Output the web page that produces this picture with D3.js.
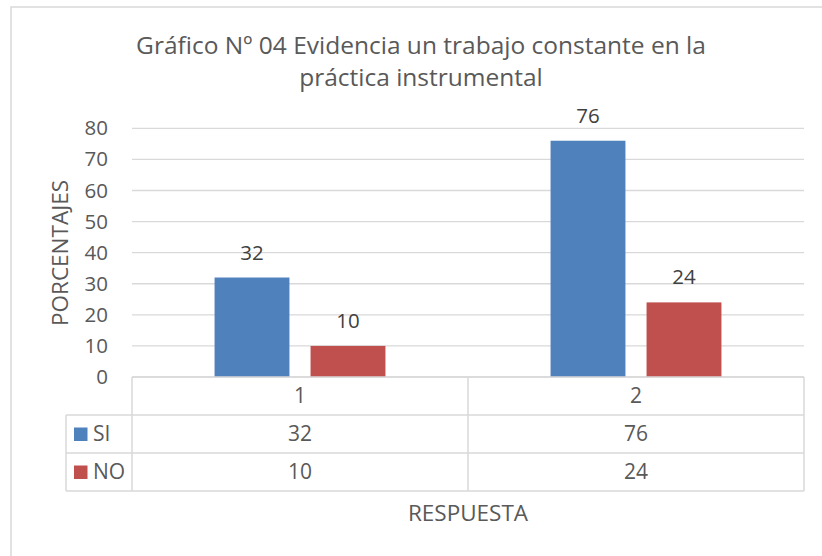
<!DOCTYPE html>
<html>
<head>
<meta charset="utf-8">
<script src="https://cdn.jsdelivr.net/npm/d3@7"></script>
<style>
  body { margin:0; background:#ffffff; }
  svg text { font-family:"Open Sans", sans-serif; }
</style>
</head>
<body>
<svg id="graph"></svg>
<script>
var categories=["1","2"]
var seriesNames=["SI","NO"]
var siValues=[32,76]
var noValues=[10,24]
var yTicks=[0,10,20,30,40,50,60,70,80]
var colors={SI:"#4F81BD",NO:"#C0504D"}

var screen={width:822,height:556}
var plot={left:132,right:804,top:128.3,bottom:377}
var rowH=38

var rows=seriesNames.map(function(name,i)
    {
        return {name:name,values:i==0?siValues:noValues}
    })

var svg=d3.select("#graph")
    .attr("width",screen.width)
    .attr("height",screen.height)

// outer chart border (cropped on the right and bottom)
svg.append("path")
    .attr("d","M11,"+screen.height+"V7H"+screen.width)
    .attr("fill","none")
    .attr("stroke","#D9D9D9")
    .attr("stroke-width",1.5)

var xScale=d3.scaleBand()
    .domain(categories)
    .range([plot.left,plot.right])

var xInner=d3.scaleBand()
    .domain(seriesNames)
    .range([0,xScale.bandwidth()])
    .paddingInner(0.22)
    .paddingOuter(0.86)

var yScale=d3.scaleLinear()
    .domain([0,80])
    .range([plot.bottom,plot.top])

// gridlines
svg.append("g")
    .selectAll("line")
    .data(yTicks)
    .enter()
    .append("line")
    .attr("x1",plot.left)
    .attr("x2",plot.right)
    .attr("y1",function(d){return yScale(d)})
    .attr("y2",function(d){return yScale(d)})
    .attr("stroke","#D9D9D9")
    .attr("stroke-width",1.3)

// y axis labels
var yAxis=d3.axisLeft(yScale)
    .tickValues(yTicks)
    .tickSize(0)
    .tickPadding(24)
svg.append("g")
    .attr("transform","translate("+plot.left+",0)")
    .call(yAxis)
    .call(function(g){g.select(".domain").remove()})
    .selectAll("text")
    .attr("font-size",20.5)
    .attr("fill","#595959")
    .attr("font-family","Open Sans")

// bars
var groups=svg.append("g")
    .selectAll("g")
    .data(rows)
    .enter()
    .append("g")

groups.selectAll("rect")
    .data(function(r){return r.values.map(function(v,i){return {name:r.name,cat:categories[i],value:v}})})
    .enter()
    .append("rect")
    .attr("x",function(d){return xScale(d.cat)+xInner(d.name)})
    .attr("y",function(d){return yScale(d.value)})
    .attr("width",xInner.bandwidth())
    .attr("height",function(d){return yScale(0)-yScale(d.value)})
    .attr("fill",function(d){return colors[d.name]})

groups.selectAll("text")
    .data(function(r){return r.values.map(function(v,i){return {name:r.name,cat:categories[i],value:v}})})
    .enter()
    .append("text")
    .text(function(d){return d.value})
    .attr("x",function(d){return xScale(d.cat)+xInner(d.name)+xInner.bandwidth()/2})
    .attr("y",function(d){return yScale(d.value)-18})
    .attr("text-anchor","middle")
    .attr("font-size",20.5)
    .attr("fill","#404040")

// data table
var table=svg.append("g")
var tableTop=plot.bottom
var tableLeft=66
var lineColor="#D9D9D9"

table.append("line")
    .attr("x1",plot.left).attr("x2",plot.right)
    .attr("y1",tableTop).attr("y2",tableTop)
table.selectAll(".hline")
    .data(d3.range(1,rows.length+2))
    .enter()
    .append("line")
    .attr("x1",tableLeft).attr("x2",plot.right)
    .attr("y1",function(i){return tableTop+i*rowH})
    .attr("y2",function(i){return tableTop+i*rowH})
table.append("line")
    .attr("x1",tableLeft).attr("x2",tableLeft)
    .attr("y1",tableTop+rowH).attr("y2",tableTop+rowH*3)
table.selectAll(".vline")
    .data(categories.concat(["end"]))
    .enter()
    .append("line")
    .attr("x1",function(c){return c=="end"?plot.right:xScale(c)})
    .attr("x2",function(c){return c=="end"?plot.right:xScale(c)})
    .attr("y1",tableTop)
    .attr("y2",tableTop+rowH*3)
table.selectAll("line")
    .attr("stroke",lineColor)
    .attr("stroke-width",1.5)

table.selectAll(".cat")
    .data(categories)
    .enter()
    .append("text")
    .text(function(c){return c})
    .attr("x",function(c){return xScale(c)+xScale.bandwidth()/2})
    .attr("y",tableTop+rowH/2)
    .attr("dy","0.35em")
    .attr("text-anchor","middle")
    .attr("font-size",21)
    .attr("fill","#595959")

rows.forEach(function(r,ri)
    {
        var cy=tableTop+rowH*(ri+1)+rowH/2
        table.append("rect")
            .attr("x",74)
            .attr("y",cy-6.5)
            .attr("width",13.5)
            .attr("height",13.5)
            .attr("fill",colors[r.name])
        table.append("text")
            .text(r.name)
            .attr("x",93)
            .attr("y",cy)
            .attr("dy","0.35em")
            .attr("font-size",21)
            .attr("fill","#595959")
        table.selectAll(".v"+ri)
            .data(r.values)
            .enter()
            .append("text")
            .text(function(v){return v})
            .attr("x",function(v,i){return xScale(categories[i])+xScale.bandwidth()/2})
            .attr("y",cy)
            .attr("dy","0.35em")
            .attr("text-anchor","middle")
            .attr("font-size",21)
            .attr("fill","#595959")
    })

// titles
var title=svg.append("text")
    .attr("text-anchor","middle")
    .attr("font-size",24.5)
    .attr("fill","#595959")
title.append("tspan").attr("x",421).attr("y",54)
    .text("Gráfico Nº 04 Evidencia un trabajo constante en la")
title.append("tspan").attr("x",421).attr("y",86)
    .text("práctica instrumental")

svg.append("text")
    .text("PORCENTAJES")
    .attr("text-anchor","middle")
    .attr("transform","translate(68,253) rotate(-90)")
    .attr("font-size",22.5)
    .attr("fill","#595959")

svg.append("text")
    .text("RESPUESTA")
    .attr("text-anchor","middle")
    .attr("x",(plot.left+plot.right)/2)
    .attr("y",521)
    .attr("font-size",22.5)
    .attr("fill","#595959")
</script>
</body>
</html>
